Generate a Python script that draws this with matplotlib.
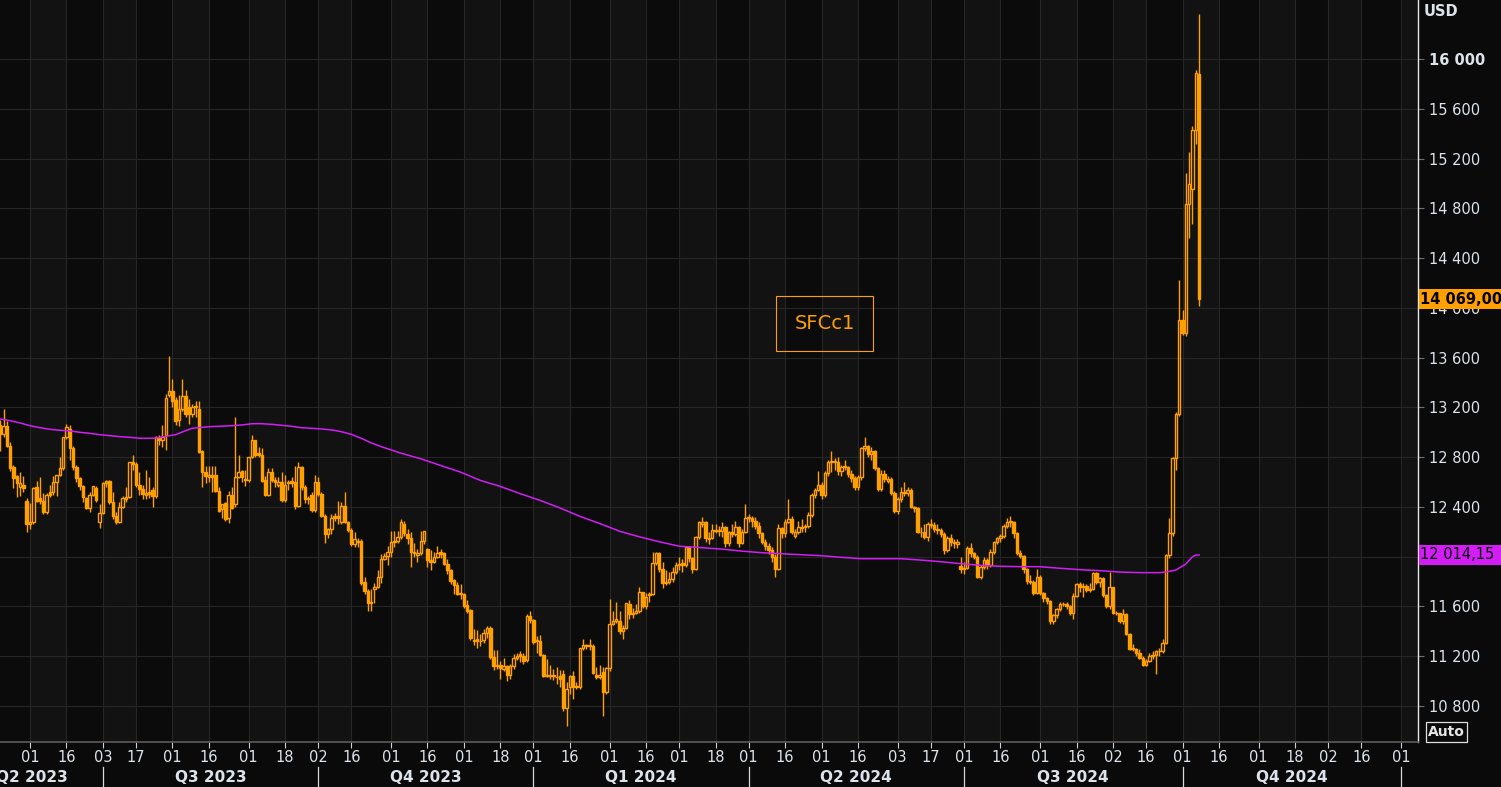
import numpy as np
import matplotlib.pyplot as plt
from matplotlib.patches import Rectangle
from matplotlib.transforms import blended_transform_factory

# first candle date, candles are on business days
start = np.datetime64('2023-05-19')

opens = [
    13060,12990,13050,12890,12720,12650,12560,12580,12450,12260,
    12280,12560,12470,12450,12360,12520,12520,12600,12660,12710,
    12960,13030,12870,12720,12630,12570,12470,12390,12500,12550,
    12275,12350,12590,12610,12440,12330,12280,12400,12460,12480,
    12760,12745,12575,12545,12500,12520,12540,12485,12960,12940,
    12975,13300,13330,13260,13100,13190,13290,13200,13150,13200,
    13190,12850,12680,12640,12660,12660,12530,12380,12430,12310,
    12495,12420,12640,12690,12620,12620,12800,12935,12830,12820,
    12620,12500,12680,12620,12580,12600,12455,12600,12610,12600,
    12405,12720,12560,12475,12500,12375,12600,12505,12330,12185,
    12225,12325,12325,12280,12410,12280,12215,12105,12120,12130,
    11800,11725,11640,11740,11755,11835,11985,12005,12035,12115,
    12125,
    12160,12260,12180,12150,12040,12010,12030,12125,12060,11970,
    11960,12000,12040,12030,11940,11893,11810,11775,11710,11700,
    11610,11570,11330,11340,11320,11330,11390,11430,11192,11130,
    11130,11100,11120,11050,11120,11187,11220,11200,11170,11520,
    11490,11330,11320,11213,11050,11050,11050,11030,11040,11060,
    10787,10950,11040,10960,10950,11267,11293,11290,11280,11050,
    11030,11070,10910,11107,11460,11480,11480,11400,11430,11620,
    11540,11550,11560,11713,11600,11690,11700,11947,12030,11900,
    11790,11800,11820,11875,11935,11950,11930,12080,11990,11900,
    12155,12260,12275,12140,12150,12213,12210,12205,12240,12107,
    12200,12180,12240,12107,12200,12310,12310,12290,12250,12187,
    12120,12085,12050,12000,11900,12227,12190,12280,12307,12170,
    12200,
    12230,12240,12245,12333,12493,12540,12580,12493,12673,12765,
    12760,12765,12685,12720,12720,12667,12630,12560,12640,12872,
    12888,12827,12848,12712,12541,12667,12610,12627,12515,12365,
    12461,12520,12515,12540,12400,12390,12200,12195,12155,12260,
    12255,12220,12215,12185,12053,12147,12115,12100,11925,11900,
    11910,12067,12027,12000,11840,11920,11973,11933,12040,12120,
    12147,12165,12250,12280,12280,12187,12027,12005,11900,11805,
    11800,11707,11840,11707,11667,11645,11485,11528,11580,11618,
    11620,11600,11547,11688,11780,11760,11765,11733,11740,11867,
    11795,11827,11693,11600,11755,11547,11545,11485,11540,11380,
    11260,11260,11227,11190,11133,11165,11200,11213,11240,11240,
    11307,12013,12192,12792,13150,13900,13800,14835,14952,15427,
    15880,
]

highs = [
    13100,13190,13090,12920,12740,12660,12680,12650,12470,12430,
    12560,12610,12640,12510,12510,12580,12650,12660,12800,12960,
    13070,13060,12890,12740,12640,12580,12480,12520,12570,12570,
    12420,12600,12620,12620,12520,12360,12440,12490,12560,12760,
    12820,12760,12680,12580,12700,12640,12560,12970,12980,13060,
    13310,13610,13430,13280,13300,13430,13340,13270,13230,13250,
    13250,12860,12730,12730,12730,12730,12560,12420,12440,12530,
    12560,13120,12820,12700,12700,12800,12980,12940,12880,12870,
    12650,12710,12710,12640,12640,12680,12660,12620,12640,12730,
    12760,12730,12580,12490,12520,12660,12640,12520,12340,12230,
    12340,12350,12450,12440,12520,12290,12230,12200,12150,12140,
    11840,11740,11740,11790,11890,12020,12030,12090,12210,12210,
    12210,
    12300,12290,12220,12200,12110,12060,12210,12210,12070,12050,
    12040,12090,12060,12040,11980,11900,11820,11800,11780,11710,
    11650,11580,11420,11410,11380,11420,11440,11440,11250,11250,
    11160,11190,11130,11140,11220,11230,11240,11230,11540,11560,
    11500,11360,11370,11220,11180,11130,11100,11110,11090,11090,
    10990,11050,11080,10990,11270,11340,11300,11340,11300,11110,
    11130,11110,11110,11660,11560,11640,11560,11450,11630,11650,
    11590,11620,11760,11720,11710,11720,12040,12040,12040,11960,
    11890,11880,11920,11960,12000,11980,12090,12090,12000,12170,
    12290,12320,12290,12200,12260,12260,12250,12280,12250,12210,
    12260,12290,12250,12220,12420,12340,12330,12320,12280,12200,
    12140,12110,12080,12020,12260,12240,12300,12460,12330,12220,
    12290,
    12300,12260,12360,12510,12550,12690,12600,12690,12780,12850,
    12790,12800,12740,12780,12730,12700,12650,12660,12880,12960,
    12900,12880,12860,12720,12700,12700,12650,12640,12530,12480,
    12560,12600,12560,12550,12410,12400,12240,12260,12280,12300,
    12280,12260,12230,12200,12170,12180,12140,12140,12000,11960,
    12090,12110,12040,12010,11930,12000,11990,12060,12130,12160,
    12180,12260,12310,12330,12290,12200,12050,12010,11910,11850,
    11810,11900,11850,11720,11680,11650,11540,11590,11640,11640,
    11640,11610,11710,11790,11800,11790,11780,11790,11880,11880,
    11840,11840,11700,11880,11760,11560,11550,11580,11550,11390,
    11300,11270,11260,11200,11180,11230,11240,11250,11270,11340,
    12020,12310,12800,13160,14220,13980,15080,15250,15460,15910,
    16360,
]

lows = [
    12850,12960,12880,12690,12550,12480,12490,12520,12200,12220,
    12260,12440,12420,12340,12340,12480,12500,12490,12650,12700,
    12950,12780,12700,12600,12540,12440,12380,12360,12490,12440,
    12230,12340,12560,12420,12300,12260,12270,12390,12440,12470,
    12700,12560,12500,12460,12460,12470,12400,12470,12900,12880,
    12860,13280,13200,13060,13050,13170,13120,13070,13120,13120,
    12830,12560,12590,12600,12520,12520,12360,12310,12290,12270,
    12380,12400,12630,12600,12570,12600,12790,12800,12800,12600,
    12490,12490,12600,12560,12560,12440,12440,12540,12560,12380,
    12400,12540,12430,12420,12360,12360,12490,12320,12110,12150,
    12180,12290,12260,12260,12270,12200,12090,12080,12080,11770,
    11700,11560,11560,11630,11750,11790,11970,11930,12000,12080,
    12110,
    12140,12170,12100,11920,12000,11960,12010,12100,11920,11890,
    11950,11990,11990,11930,11860,11780,11700,11690,11660,11590,
    11550,11330,11290,11270,11280,11310,11350,11180,11090,11100,
    11020,11080,11000,11020,11100,11170,11150,11140,11150,11470,
    11300,11230,11200,11030,11030,11020,11010,10980,10950,10760,
    10640,10900,10860,10940,10940,11250,11260,11250,11060,11020,
    11020,10720,10900,11080,11450,11470,11380,11340,11420,11500,
    11510,11540,11550,11590,11580,11640,11690,11930,11880,11750,
    11770,11780,11800,11860,11890,11880,11920,11960,11870,11890,
    12140,12240,12120,12100,12140,12190,12170,12160,12080,12090,
    12160,12170,12080,12100,12190,12280,12240,12220,12150,12100,
    12050,12020,11960,11840,11890,12150,12160,12270,12180,12150,
    12180,
    12200,12200,12230,12320,12470,12530,12460,12480,12650,12680,
    12700,12660,12650,12700,12640,12600,12540,12540,12620,12850,
    12800,12780,12700,12530,12530,12600,12590,12500,12350,12340,
    12440,12490,12490,12390,12360,12190,12160,12140,12130,12230,
    12200,12180,12160,12020,12040,12090,12070,12070,11870,11860,
    11900,12000,11980,11830,11820,11900,11900,11920,12020,12100,
    12120,12150,12230,12240,12150,12010,11990,11870,11780,11780,
    11690,11700,11690,11640,11620,11460,11460,11510,11560,11600,
    11580,11530,11500,11680,11720,11680,11720,11720,11730,11780,
    11760,11680,11590,11580,11540,11530,11470,11460,11370,11250,
    11240,11200,11180,11120,11120,11150,11180,11060,11200,11230,
    11300,11990,12170,12700,13130,13780,13770,14560,14670,15320,
    14018,
]

closes = [
    12990,13050,12890,12710,12630,12590,12590,12550,12260,12280,
    12550,12450,12450,12360,12500,12500,12600,12660,12710,12960,
    13040,12870,12720,12630,12570,12480,12390,12500,12565,12455,
    12350,12590,12610,12440,12330,12280,12400,12470,12480,12760,
    12745,12575,12545,12505,12510,12505,12485,12960,12935,12965,
    13275,13335,13250,13090,13190,13290,13150,13150,13200,13210,
    12845,12680,12650,12660,12640,12530,12365,12420,12305,12495,
    12390,12640,12680,12640,12620,12800,12935,12815,12820,12610,
    12500,12680,12620,12600,12600,12455,12580,12590,12590,12405,
    12720,12560,12465,12460,12375,12600,12505,12330,12180,12225,
    12315,12315,12310,12410,12280,12215,12100,12145,12130,11790,
    11725,11630,11630,11755,11835,11985,12005,12035,12120,12125,
    12160,
    12275,12190,12150,12040,12030,12030,12125,12205,11970,11960,
    12000,12030,12025,11940,11893,11808,11773,11700,11700,11600,
    11560,11347,11325,11320,11320,11390,11430,11192,11120,11120,
    11107,11120,11047,11120,11187,11200,11200,11160,11520,11490,
    11315,11320,11213,11040,11040,11040,11040,11030,11020,10787,
    10940,11040,10950,10950,11267,11293,11280,11280,11067,11030,
    11050,10910,11107,11460,11480,11500,11400,11430,11627,11540,
    11550,11560,11713,11600,11673,11700,11947,12030,11900,11790,
    11800,11820,11875,11935,11940,11930,12080,11990,11900,12155,
    12275,12275,12147,12150,12213,12205,12205,12240,12107,12200,
    12180,12240,12107,12200,12310,12310,12290,12250,12187,12120,
    12085,12050,12000,11900,12227,12190,12280,12307,12200,12200,
    12240,
    12240,12245,12333,12493,12540,12580,12493,12673,12765,12765,
    12765,12685,12720,12720,12667,12630,12560,12640,12872,12888,
    12827,12848,12712,12541,12667,12627,12627,12515,12365,12461,
    12520,12515,12540,12400,12390,12200,12195,12155,12260,12255,
    12220,12215,12185,12053,12147,12115,12107,12115,11900,11910,
    12067,12027,12000,11840,11920,11973,11933,12040,12120,12147,
    12165,12250,12280,12280,12187,12027,12005,11900,11805,11800,
    11707,11840,11707,11667,11645,11485,11528,11580,11618,11620,
    11600,11547,11688,11780,11760,11765,11733,11740,11867,11795,
    11827,11693,11600,11755,11547,11545,11485,11540,11380,11260,
    11260,11227,11190,11133,11165,11200,11213,11240,11240,11307,
    12013,12192,12792,13150,13900,13800,14835,14995,15432,15888,
    14069,
]

# moving average (magenta), read at candle positions
ma_idx = [0,3,6,9,12,15,18,21,24,27,30,33,36,39,42,46,48,50,53,56,
          58,60,63,66,70,73,76,79,82,85,88,91,94,97,100,103,106,109,112,115,
          118,121,127,133,139,145,151,157,163,169,175,181,187,193,199,205,212,218,224,230,
          236,242,248,254,260,266,272,278,284,290,296,302,308,314,320,326,332,338,344,350,
          352,355,358,360,361,362]
ma_val = [13107,13093,13075,13053,13037,13024,13016,13011,13000,12992,
          12981,12973,12965,12960,12952,12952,12957,12968,12981,13013,
          13032,13037,13045,13048,13053,13059,13069,13069,13064,13056,
          13048,13037,13032,13027,13019,13005,12984,12952,12915,12885,
          12859,12832,12787,12733,12680,12613,12565,12507,12453,12392,
          12325,12267,12205,12160,12120,12085,12072,12061,12045,12032,
          12024,12016,12008,11995,11984,11984,11984,11973,11960,11944,
          11931,11923,11920,11920,11907,11896,11888,11877,11872,11872,
          11877,11893,11941,12000,12013,12014.15]

y_ticks = list(range(10800, 16001, 400))
last_price = 14069.00
last_ma = 12014.15
ric = 'SFCc1'

ORANGE = '#ffa000'
MAGENTA = '#d21ef5'
TXT = '#dce3ea'

O = np.array(opens, float)
H = np.array(highs, float)
L = np.array(lows, float)
C = np.array(closes, float)
x = np.arange(len(C))

W, Hpx = 1501, 787
fig = plt.figure(figsize=(W / 100, Hpx / 100), dpi=100, facecolor='#0a0a0a')
ax = fig.add_axes([0, 45 / Hpx, 1418 / W, 742 / Hpx])
ax.set_facecolor('#0b0b0b')
ax.set_xlim(-0.06, 428.1)
ax.set_ylim(10511, 16474)

# date ticks: 1st and 16th of each month (next business day)
tick_pos, tick_lab, band_start, all_ticks = [], [], [], []
q_starts = []
for yr in (2023, 2024, 2025):
    for m in range(1, 13):
        for d in (1, 16):
            t = np.busday_offset(np.datetime64(f'{yr}-{m:02d}-{d:02d}'), 0, roll='forward')
            k = int(np.busday_count(start, t))
            if -100 <= k <= 440:
                all_ticks.append(k)
                if d == 1:
                    band_start.append(k)
                    if m in (1, 4, 7, 10):
                        q_starts.append((k, f'Q{(m - 1) // 3 + 1} {yr}'))
                if -0.06 <= k <= 428:
                    tick_pos.append(k)
                    tick_lab.append(str(t)[8:10])

all_ticks.sort()
for b in band_start:
    nxt = [t for t in all_ticks if t > b]
    if nxt:
        ax.axvspan(b, nxt[0], color='#121212', lw=0, zorder=0.2)

ax.set_axisbelow(True)
ax.set_xticks(tick_pos)
ax.set_xticklabels([])
ax.set_yticks(y_ticks, [f'{v:,}'.replace(',', ' ') for v in y_ticks])
ax.grid(True, color='#262626', lw=0.8)

ax.yaxis.tick_right()
ax.tick_params(axis='x', length=4, width=0.8, color='#d0d0d0', direction='out')
ax.tick_params(axis='y', length=4, width=0.8, color='#707070', labelcolor=TXT,
               labelsize=10.5, pad=4)
for lab in ax.get_yticklabels():
    if lab.get_text() == '16 000':
        lab.set_fontweight('bold')

for s in ('top', 'left'):
    ax.spines[s].set_visible(False)
ax.spines['right'].set_color('#e8e8e8')
ax.spines['right'].set_linewidth(1)
ax.spines['bottom'].set_color('#5c5c5c')
ax.spines['bottom'].set_linewidth(1.2)

# date labels and quarter labels below axis
bt = blended_transform_factory(ax.transData, fig.transFigure)
for p, lab in zip(tick_pos, tick_lab):
    ax.text(p, 1 - 757.5 / Hpx, lab, transform=bt, ha='center', va='center',
            color=TXT, fontsize=10.5, clip_on=False)
for i, (k, lab) in enumerate(q_starts[:-1]):
    nk = q_starts[i + 1][0]
    if nk < 0:
        continue
    c = max((k + nk) / 2, 9.5)
    if c > 428:
        continue
    ax.text(c, 1 - 777.5 / Hpx, lab, transform=bt, ha='center', va='center',
            color=TXT, fontsize=11, fontweight='bold', clip_on=False)
    if 0 < nk < 428:
        ax.plot([nk, nk], [0, 1 - 767 / Hpx], transform=bt, color='#d8d8d8',
                lw=0.9, clip_on=False)

# candles
up = C >= O
bot = np.minimum(O, C)
top = np.maximum(O, C)
hgt = np.maximum(top - bot, 6)
ax.vlines(x, L, bot, color=ORANGE, lw=1.0, zorder=3)
ax.vlines(x, top, H, color=ORANGE, lw=1.0, zorder=3)
ax.bar(x[up], hgt[up], bottom=bot[up], width=0.75, facecolor='none',
       edgecolor=ORANGE, linewidth=1.0, zorder=4)
ax.bar(x[~up], hgt[~up], bottom=bot[~up], width=0.75, facecolor=ORANGE,
       edgecolor=ORANGE, linewidth=1.0, zorder=4)

# moving average
ax.plot(ma_idx, ma_val, color=MAGENTA, lw=1.1, zorder=5)

# right-side value boxes
fig.canvas.draw()
inv = fig.transFigure.inverted()
def box_y(p):
    return inv.transform(ax.transData.transform((0, p)))[1]

for val, fc, txt, wt in ((last_price, '#ff9f00', '14 069,00', 'bold'),
                         (last_ma, MAGENTA, '12 014,15', 'normal')):
    yc = box_y(val)
    fig.add_artist(Rectangle((1419 / W, yc - 10 / Hpx), 82 / W, 20 / Hpx,
                             transform=fig.transFigure, fc=fc, ec='none', zorder=10))
    fig.text(1420 / W, yc, txt, color='black', fontsize=10.5, fontweight=wt,
             ha='left', va='center', zorder=11)

fig.text(1424 / W, 1 - 11 / Hpx, 'USD', color=TXT, fontsize=10.5,
         fontweight='bold', ha='left', va='center')

# Auto button
fig.add_artist(Rectangle((1426 / W, 1 - 742 / Hpx), 41 / W, 20 / Hpx,
                         transform=fig.transFigure, fc='none', ec='#e0e0e0', lw=0.9))
fig.text(1446.5 / W, 1 - 732 / Hpx, 'Auto', color='#e6e6e6', fontsize=10,
         fontweight='bold', ha='center', va='center')

# instrument box
fig.add_artist(Rectangle((776 / W, 1 - 351 / Hpx), 97 / W, 55 / Hpx,
                         transform=fig.transFigure, fc='none', ec=ORANGE, lw=0.8))
fig.text(824.5 / W, 1 - 323.5 / Hpx, ric, color=ORANGE, fontsize=14,
         ha='center', va='center')

fig.savefig('out.png', dpi=100, facecolor=fig.get_facecolor())
